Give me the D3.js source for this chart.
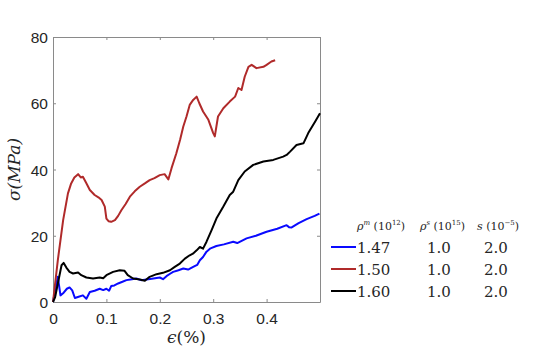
<!DOCTYPE html>
<html>
<head>
<meta charset="utf-8">
<script src="https://cdn.jsdelivr.net/npm/d3@7"></script>
<style>
  body { margin: 0; background: #fff; }
  svg text { fill: #262626; }
</style>
</head>
<body>
<div id="chart"></div>
<script>
const width = 540;
const height = 360;

// strain (%) / stress (MPa)
const blueX = [0, 0.004, 0.009, 0.014, 0.02, 0.026, 0.031, 0.036, 0.041, 0.048, 0.056, 0.0625, 0.069, 0.078, 0.0875, 0.094, 0.1, 0.105, 0.109, 0.115, 0.122, 0.13, 0.1375, 0.145, 0.156, 0.165, 0.175, 0.185, 0.2, 0.206, 0.2125, 0.22, 0.225, 0.235, 0.244, 0.253, 0.2625, 0.27, 0.275, 0.281, 0.2875, 0.295, 0.306, 0.32, 0.3375, 0.345, 0.3625, 0.38, 0.4, 0.42, 0.4375, 0.442, 0.447, 0.46, 0.475, 0.49, 0.499];
const blueY = [0, 3.5, 7.6, 2.0, 2.8, 4.0, 4.4, 3.5, 1.2, 1.6, 2.0, 1.0, 3.0, 3.4, 4.0, 3.6, 4.0, 3.4, 4.8, 5.0, 5.6, 6.1, 6.6, 6.8, 7.1, 6.6, 6.8, 7.0, 7.4, 6.9, 7.8, 8.6, 9.1, 9.6, 10.1, 9.8, 10.6, 11.2, 12.6, 13.6, 15.2, 16.2, 16.9, 17.4, 18.2, 17.8, 19.2, 20.0, 21.2, 22.1, 23.2, 22.6, 22.5, 23.8, 25.0, 26.0, 26.7];

const redX = [0, 0.009, 0.019, 0.028, 0.034, 0.04, 0.047, 0.052, 0.056, 0.062, 0.069, 0.078, 0.085, 0.091, 0.097, 0.1, 0.104, 0.109, 0.116, 0.122, 0.128, 0.136, 0.144, 0.153, 0.1625, 0.172, 0.181, 0.19, 0.2, 0.209, 0.216, 0.222, 0.231, 0.238, 0.244, 0.25, 0.256, 0.2625, 0.269, 0.274, 0.281, 0.291, 0.3, 0.303, 0.309, 0.319, 0.331, 0.341, 0.347, 0.353, 0.359, 0.366, 0.372, 0.381, 0.394, 0.4, 0.409, 0.416];
const redY = [0, 12.6, 24.7, 32.8, 35.8, 37.6, 38.6, 37.6, 37.8, 36.0, 33.8, 32.3, 31.6, 30.8, 28.8, 25.2, 24.4, 24.2, 24.7, 26.0, 27.7, 29.6, 31.8, 33.4, 34.8, 35.8, 36.8, 37.4, 38.3, 38.6, 37.0, 40.4, 44.9, 49.0, 53.0, 56.0, 59.5, 61.0, 62.0, 60.0, 57.5, 55.0, 51.0, 50.0, 56.0, 58.5, 60.5, 62.0, 64.6, 64.0, 68.0, 71.0, 71.6, 70.6, 71.0, 71.6, 72.6, 73.0];

const blackX = [0, 0.004, 0.009, 0.016, 0.02, 0.025, 0.031, 0.0375, 0.047, 0.053, 0.0625, 0.075, 0.0875, 0.094, 0.1, 0.1125, 0.125, 0.134, 0.14, 0.15, 0.1625, 0.172, 0.181, 0.194, 0.206, 0.219, 0.228, 0.2375, 0.247, 0.256, 0.262, 0.269, 0.275, 0.281, 0.2875, 0.297, 0.306, 0.319, 0.331, 0.3375, 0.347, 0.359, 0.375, 0.394, 0.4125, 0.431, 0.4375, 0.444, 0.456, 0.469, 0.478, 0.491, 0.5];
const blackY = [0, 1.5, 5.5, 11.1, 11.8, 10.4, 9.1, 8.6, 8.9, 8.1, 7.4, 7.1, 7.4, 7.2, 8.1, 9.1, 9.6, 9.4, 8.1, 7.1, 6.8, 6.4, 7.6, 8.4, 8.8, 9.6, 10.6, 11.6, 13.1, 14.1, 14.6, 15.6, 16.6, 16.1, 18.2, 21.7, 25.2, 28.8, 32.3, 33.3, 36.8, 39.4, 41.4, 42.4, 42.9, 43.9, 44.4, 45.4, 47.4, 47.9, 51.0, 54.5, 57.0];

const xTicks = [0, 0.1, 0.2, 0.3, 0.4, 0.5];
const yTicks = [0, 20, 40, 60, 80];

const legendRho = ["1.47", "1.50", "1.60"];
const legendRhoS = ["1.0", "1.0", "1.0"];
const legendS = ["2.0", "2.0", "2.0"];
const colors = ["#0a0aff", "#b02a2a", "#000000"];

const series = [
  {xs: blueX, ys: blueY, color: colors[0]},
  {xs: redX, ys: redY, color: colors[1]},
  {xs: blackX, ys: blackY, color: colors[2]}
];

const plotL = 53, plotR = 320, plotT = 37, plotB = 302;
const serif = "'DejaVu Serif', serif";
const sans = "'Liberation Sans', Arial, sans-serif";

var svg = d3.select("#chart").append("svg")
  .attr("width", width)
  .attr("height", height);

var x = d3.scaleLinear().domain([0, 0.5]).range([plotL, plotR]);
var y = d3.scaleLinear().domain([0, 80]).range([plotB, plotT]);

//box + ticks
var axisColor = "#8a8a8a";
function styleAxis(g) {
  g.select(".domain").attr("stroke", axisColor);
  g.selectAll(".tick line").attr("stroke", axisColor);
}

svg.append("g").attr("transform", `translate(0,${plotB})`)
  .call(d3.axisBottom(x).tickValues(xTicks).tickSizeInner(-3).tickSizeOuter(0)
    .tickFormat(d => d === 0.5 ? "" : d3.format("")(d)))
  .call(styleAxis)
  .call(g => g.selectAll("text").attr("dy", 0).attr("y", 22)
    .attr("font-family", sans).attr("font-size", 15.5));

svg.append("g").attr("transform", `translate(0,${plotT})`)
  .call(d3.axisTop(x).tickValues(xTicks).tickSizeInner(-3).tickSizeOuter(0).tickFormat(""))
  .call(styleAxis);

svg.append("g").attr("transform", `translate(${plotL},0)`)
  .call(d3.axisLeft(y).tickValues(yTicks).tickSizeInner(-3).tickSizeOuter(0))
  .call(styleAxis)
  .call(g => g.selectAll("text").attr("x", -5).attr("dy", "0.36em")
    .attr("font-family", sans).attr("font-size", 15.5));

svg.append("g").attr("transform", `translate(${plotR},0)`)
  .call(d3.axisRight(y).tickValues(yTicks).tickSizeInner(-3).tickSizeOuter(0).tickFormat(""))
  .call(styleAxis);

var line = d3.line().x(d => x(d[0])).y(d => y(d[1]));

series.forEach(s => {
  svg.append("path")
    .datum(d3.zip(s.xs, s.ys))
    .attr("fill", "none")
    .attr("stroke", s.color)
    .attr("stroke-width", 2)
    .attr("stroke-linejoin", "round")
    .attr("d", line);
});

//axis labels
svg.append("text")
  .attr("transform", `translate(20,${(plotT + plotB) / 2}) rotate(-90)`)
  .attr("text-anchor", "middle")
  .attr("font-family", serif).attr("font-size", 17).attr("font-style", "italic")
  .text("σ(MPa)");

svg.append("text")
  .attr("x", (plotL + plotR) / 2).attr("y", 343)
  .attr("text-anchor", "middle")
  .attr("font-family", serif).attr("font-size", 17)
  .html('<tspan font-style="italic">ϵ</tspan>(%)');

//legend
var lg = svg.append("g").attr("font-family", serif);
function header(x0, sym, sup, exp) {
  var t = lg.append("text").attr("y", 230).attr("font-size", 11);
  t.append("tspan").attr("x", x0).attr("font-style", "italic").text(sym);
  if (sup) t.append("tspan").attr("dy", -5).attr("font-size", 7).attr("font-style", "italic").text(sup);
  t.append("tspan").attr("dy", sup ? 5 : 0).text(" (10");
  t.append("tspan").attr("dy", -5).attr("font-size", 7).text(exp);
  t.append("tspan").attr("dy", 5).text(")");
}
header(357, "ρ", "m", "12");
header(420, "ρ", "s", "15");
header(477, "s", null, "−5");

legendRho.forEach((v, i) => {
  var yy = 247 + i * 22;
  lg.append("line").attr("x1", 331).attr("x2", 356).attr("y1", yy).attr("y2", yy)
    .attr("stroke", colors[i]).attr("stroke-width", 2);
  lg.append("text").attr("x", 357).attr("y", yy + 6).attr("font-size", 15).text(v);
  lg.append("text").attr("x", 427).attr("y", yy + 6).attr("font-size", 15).text(legendRhoS[i]);
  lg.append("text").attr("x", 484).attr("y", yy + 6).attr("font-size", 15).text(legendS[i]);
});
</script>
</body>
</html>
